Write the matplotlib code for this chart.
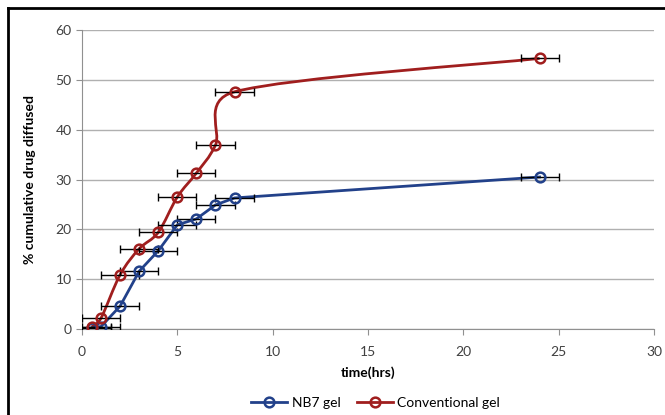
import numpy as np
import matplotlib
matplotlib.use("Agg")
import matplotlib.pyplot as plt
from matplotlib.path import Path
from matplotlib.patches import PathPatch
from matplotlib.lines import Line2D

# ---- data ----
time_nb7 = [0.5, 1, 2, 3, 4, 5, 6, 7, 8, 24]
nb7 = [0.2, 0.5, 4.6, 11.6, 15.7, 20.9, 22.1, 24.9, 26.3, 30.5]
time_conv = [0.5, 1, 2, 3, 4, 5, 6, 7, 8, 24]
conv = [0.4, 2.2, 10.9, 16.1, 19.4, 26.5, 31.3, 36.9, 47.6, 54.3]
x_err = [1, 1, 1, 1, 1, 1, 1, 1, 1, 1]
x_ticks = [0, 5, 10, 15, 20, 25, 30]
y_ticks = [0, 10, 20, 30, 40, 50, 60]

BLUE = "#22418a"
RED = "#a01e1e"
TXT = "#404040"
FONT = ["Lato", "DejaVu Sans"]

fig = plt.figure(figsize=(6.65, 4.15), dpi=100)
ax = fig.add_axes([0.1233, 0.2072, 0.8602, 0.7205])
ax.set_xlim(0, 30)
ax.set_ylim(0, 60)

# figure border (top and left)
fig.add_artist(Line2D([8/665, 1], [1 - 8/415, 1 - 8/415], transform=fig.transFigure, color="black", lw=2))
fig.add_artist(Line2D([8/665, 8/665], [0, 1 - 8/415], transform=fig.transFigure, color="black", lw=2))

ax.set_xticks(x_ticks)
ax.set_yticks(y_ticks)
ax.yaxis.grid(True, color="#b0b0b0", lw=1)
ax.set_axisbelow(True)
for s in ["top", "right"]:
    ax.spines[s].set_visible(False)
for s in ["left", "bottom"]:
    ax.spines[s].set_color("#909090")
ax.tick_params(axis="both", colors="#909090", labelcolor=TXT, labelsize=10, length=4)
ax.tick_params(axis="x", pad=8)
for lab in ax.get_xticklabels() + ax.get_yticklabels():
    lab.set_family(FONT)

# smoothed red curve (Excel-like bezier) computed in scaled coordinates
sx = 572 / 30.0
sy = 299 / 60.0
P = np.column_stack([np.array(time_conv) * sx, np.array(conv) * sy])
n = len(P)
verts = [tuple(P[0])]
codes = [Path.MOVETO]
for i in range(n - 1):
    p0 = P[i - 1] if i > 0 else P[i]
    p1 = P[i]
    p2 = P[i + 1]
    p3 = P[i + 2] if i + 2 < n else P[i + 1]
    seg = np.linalg.norm(p2 - p1)
    t1 = (p2 - p0) / 6.0
    t2 = (p3 - p1) / 6.0
    for t in (t1, t2):
        L = np.linalg.norm(t)
        if L > 0.6 * seg:
            t *= 0.6 * seg / L
    c1 = p1 + t1
    c2 = p2 - t2
    verts += [tuple(c1), tuple(c2), tuple(p2)]
    codes += [Path.CURVE4] * 3
verts = np.array(verts)
verts[:, 0] /= sx
verts[:, 1] /= sy
ax.add_patch(PathPatch(Path(verts, codes), facecolor="none", edgecolor=RED, lw=2, zorder=3))

# blue line
ax.plot(time_nb7, nb7, color=BLUE, lw=2, zorder=3)

# error bars
ax.errorbar(time_nb7, nb7, xerr=x_err, fmt="none", ecolor="black", elinewidth=1, capsize=3, capthick=1, zorder=4)
ax.errorbar(time_conv, conv, xerr=x_err, fmt="none", ecolor="black", elinewidth=1, capsize=3, capthick=1, zorder=4)

# markers
ax.plot(time_nb7, nb7, ls="none", marker="o", ms=7, mfc="none", mec=BLUE, mew=1.8, zorder=5)
ax.plot(time_conv, conv, ls="none", marker="o", ms=7, mfc="none", mec=RED, mew=1.8, zorder=5)

ax.set_xlabel("time(hrs)", fontsize=10, fontweight="bold", family=FONT, color="black", labelpad=6)
ax.set_ylabel("% cumulative drug diffused", fontsize=10, fontweight="bold", family=FONT, color="black", labelpad=14)

h1 = Line2D([], [], color=BLUE, lw=2, marker="o", ms=7, mfc="none", mec=BLUE, mew=1.8)
h2 = Line2D([], [], color=RED, lw=2, marker="o", ms=7, mfc="none", mec=RED, mew=1.8)
fig.legend([h1, h2], ["NB7 gel", "Conventional gel"], loc="center", bbox_to_anchor=(0.565, 1 - 403/415),
           ncol=2, frameon=False, handlelength=2.6, columnspacing=1.2, handletextpad=0.3,
           prop={"family": FONT, "size": 10})

fig.savefig("out.png", dpi=100)
